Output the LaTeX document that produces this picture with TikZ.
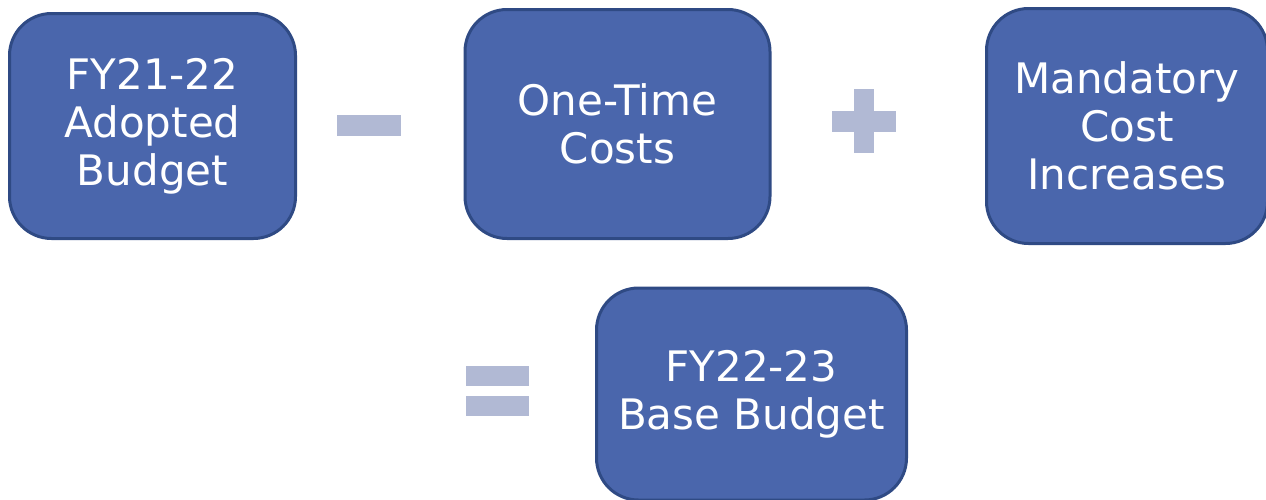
\documentclass[tikz,border=0pt]{standalone}
\usepackage{fontspec}
\setmainfont{DejaVu Sans}
\definecolor{boxfill}{HTML}{4A66AC}
\definecolor{boxline}{HTML}{2F4A84}
\definecolor{signfill}{HTML}{B1B9D4}
\begin{document}
\begin{tikzpicture}[x=1pt, y=-1pt,
    budgetbox/.style={rectangle, rounded corners=42pt, draw=boxline, line width=3pt, fill=boxfill,
        text=white, align=center, inner sep=0pt,
        font=\fontsize{42}{48}\selectfont},
    signbar/.style={fill=signfill}]
    \useasboundingbox (0,0) rectangle (1266,499);
        % Top row: budget terms
            \node[budgetbox, minimum width=286pt, minimum height=225pt] (adopted)   at (152.5,126) {FY21-22\\Adopted\\Budget};
            \node[budgetbox, minimum width=305pt, minimum height=229pt] (onetime)   at (617.5,124) {One-Time\\Costs};
            \node[budgetbox, minimum width=281pt, minimum height=235pt] (mandatory) at (1127,126)  {Mandatory\\Cost\\Increases};
        % Bottom row: result
            \node[budgetbox, minimum width=310pt, minimum height=212pt] (base)      at (751.5,394) {FY22-23\\Base Budget};
        % Operators
            \fill[signbar] (337,115) rectangle (401,136);
            \fill[signbar] (832,111) rectangle (896,132);
            \fill[signbar] (854,89)  rectangle (874,153);
            \fill[signbar] (466,366) rectangle (529,386);
            \fill[signbar] (466,396) rectangle (529,416);
\end{tikzpicture}
\end{document}
